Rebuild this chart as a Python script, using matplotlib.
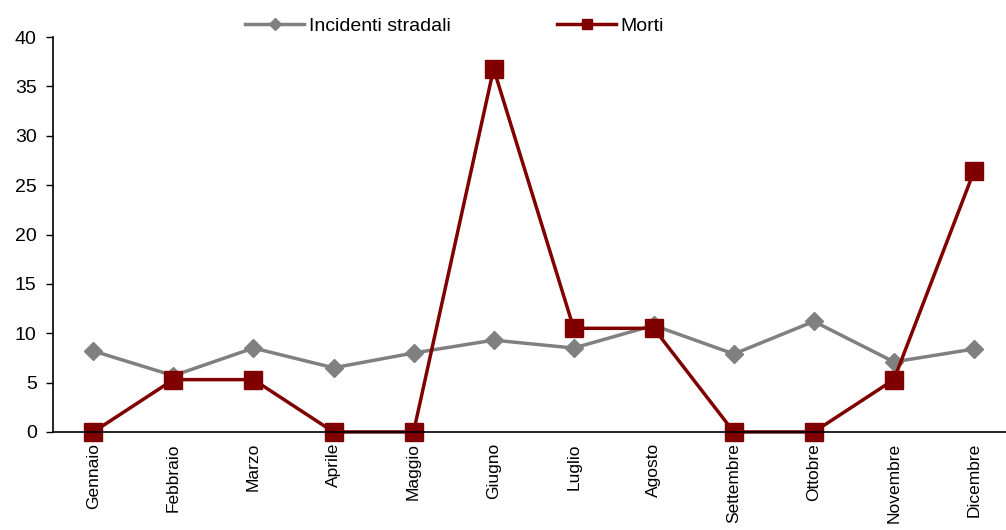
import matplotlib.pyplot as plt

plt.rcParams['font.family'] = ['Liberation Sans', 'DejaVu Sans']

mesi = ['Gennaio', 'Febbraio', 'Marzo', 'Aprile', 'Maggio', 'Giugno',
        'Luglio', 'Agosto', 'Settembre', 'Ottobre', 'Novembre', 'Dicembre']
incidenti = [8.2, 5.7, 8.5, 6.5, 8.0, 9.3, 8.5, 10.8, 7.9, 11.2, 7.1, 8.4]
morti = [0, 5.3, 5.3, 0, 0, 36.8, 10.5, 10.5, 0, 0, 5.3, 26.4]

fig = plt.figure(figsize=(10.06, 5.30), dpi=100)
ax = fig.add_axes([0.053, 0.185, 0.947, 0.745])

x = range(len(mesi))
ax.plot(x, incidenti, color='#808080', lw=2.5, marker='D', ms=9.5,
        label='Incidenti stradali')
ax.plot(x, morti, color='#800000', lw=2.5, marker='s', ms=13,
        label='Morti')

ax.set_xlim(-0.5, 11.4)
ax.set_ylim(0, 40)
ax.set_yticks(range(0, 41, 5))
ax.set_xticks(list(x))
ax.set_xticklabels(mesi, rotation=90, fontsize=12.5)
ax.tick_params(axis='x', length=0, pad=8)
ax.tick_params(axis='y', direction='out', length=5, labelsize=14, width=1, pad=7)
for s in ['top', 'right']:
    ax.spines[s].set_visible(False)
for s in ['left', 'bottom']:
    ax.spines[s].set_linewidth(1.2)
for ln in ax.lines:
    ln.set_clip_on(False)

fig.legend(loc='upper center', bbox_to_anchor=(0.452, 1.0), ncol=2,
           frameon=False, fontsize=14, columnspacing=5.5, handlelength=3.0,
           handletextpad=0.25, markerscale=0.6)

fig.savefig('out.png', dpi=100)
